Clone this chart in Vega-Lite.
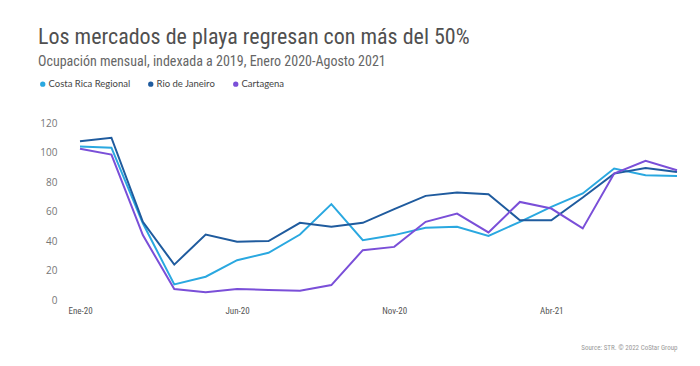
{
  "$schema": "https://vega.github.io/schema/vega-lite/v6.json",
  "width": 597,
  "height": 177,
  "autosize": {"type": "none"},
  "padding": {"left": 80, "top": 123, "right": 23, "bottom": 66},
  "background": "white",
  "title": {
    "text": "Los mercados de playa regresan con más del 50%",
    "subtitle": "Ocupación mensual, indexada a 2019, Enero 2020-Agosto 2021",
    "anchor": "start",
    "frame": "group",
    "dx": -42,
    "offset": 9,
    "font": "'Roboto Condensed', 'DejaVu Sans Condensed', 'Liberation Sans Narrow', Roboto",
    "fontSize": 22,
    "fontWeight": "normal",
    "color": "#505050",
    "subtitleFont": "'Roboto Condensed', 'DejaVu Sans Condensed', 'Liberation Sans Narrow', Roboto",
    "subtitleFontSize": 14,
    "subtitleColor": "#666666",
    "subtitlePadding": 6
  },
  "config": {
    "view": {"stroke": null},
    "axis": {"grid": false, "domain": false, "ticks": false, "tickSize": 0}
  },
  "data": {
    "values": [
      {"mes": "Ene-20", "mercado": "Costa Rica Regional", "valor": 104},
      {"mes": "Feb-20", "mercado": "Costa Rica Regional", "valor": 103.3},
      {"mes": "Mar-20", "mercado": "Costa Rica Regional", "valor": 52},
      {"mes": "Abr-20", "mercado": "Costa Rica Regional", "valor": 10.6},
      {"mes": "May-20", "mercado": "Costa Rica Regional", "valor": 15.8},
      {"mes": "Jun-20", "mercado": "Costa Rica Regional", "valor": 27},
      {"mes": "Jul-20", "mercado": "Costa Rica Regional", "valor": 32},
      {"mes": "Ago-20", "mercado": "Costa Rica Regional", "valor": 44.4},
      {"mes": "Sep-20", "mercado": "Costa Rica Regional", "valor": 65},
      {"mes": "Oct-20", "mercado": "Costa Rica Regional", "valor": 40.6},
      {"mes": "Nov-20", "mercado": "Costa Rica Regional", "valor": 44},
      {"mes": "Dic-20", "mercado": "Costa Rica Regional", "valor": 49},
      {"mes": "Ene-21", "mercado": "Costa Rica Regional", "valor": 49.6},
      {"mes": "Feb-21", "mercado": "Costa Rica Regional", "valor": 43.5},
      {"mes": "Mar-21", "mercado": "Costa Rica Regional", "valor": 53},
      {"mes": "Abr-21", "mercado": "Costa Rica Regional", "valor": 63.1},
      {"mes": "May-21", "mercado": "Costa Rica Regional", "valor": 72.2},
      {"mes": "Jun-21", "mercado": "Costa Rica Regional", "valor": 89.1},
      {"mes": "Jul-21", "mercado": "Costa Rica Regional", "valor": 84.6},
      {"mes": "Ago-21", "mercado": "Costa Rica Regional", "valor": 84.1},
      {"mes": "Ene-20", "mercado": "Rio de Janeiro", "valor": 107.6},
      {"mes": "Feb-20", "mercado": "Rio de Janeiro", "valor": 110},
      {"mes": "Mar-20", "mercado": "Rio de Janeiro", "valor": 53},
      {"mes": "Abr-20", "mercado": "Rio de Janeiro", "valor": 24},
      {"mes": "May-20", "mercado": "Rio de Janeiro", "valor": 44.4},
      {"mes": "Jun-20", "mercado": "Rio de Janeiro", "valor": 39.5},
      {"mes": "Jul-20", "mercado": "Rio de Janeiro", "valor": 40},
      {"mes": "Ago-20", "mercado": "Rio de Janeiro", "valor": 52.3},
      {"mes": "Sep-20", "mercado": "Rio de Janeiro", "valor": 49.6},
      {"mes": "Oct-20", "mercado": "Rio de Janeiro", "valor": 52.3},
      {"mes": "Nov-20", "mercado": "Rio de Janeiro", "valor": 61.6},
      {"mes": "Dic-20", "mercado": "Rio de Janeiro", "valor": 70.6},
      {"mes": "Ene-21", "mercado": "Rio de Janeiro", "valor": 72.9},
      {"mes": "Feb-21", "mercado": "Rio de Janeiro", "valor": 71.7},
      {"mes": "Mar-21", "mercado": "Rio de Janeiro", "valor": 54.1},
      {"mes": "Abr-21", "mercado": "Rio de Janeiro", "valor": 54.1},
      {"mes": "May-21", "mercado": "Rio de Janeiro", "valor": 69.5},
      {"mes": "Jun-21", "mercado": "Rio de Janeiro", "valor": 85.7},
      {"mes": "Jul-21", "mercado": "Rio de Janeiro", "valor": 89.5},
      {"mes": "Ago-21", "mercado": "Rio de Janeiro", "valor": 86.8},
      {"mes": "Ene-20", "mercado": "Cartagena", "valor": 102.6},
      {"mes": "Feb-20", "mercado": "Cartagena", "valor": 98.6},
      {"mes": "Mar-20", "mercado": "Cartagena", "valor": 44},
      {"mes": "Abr-20", "mercado": "Cartagena", "valor": 7.4},
      {"mes": "May-20", "mercado": "Cartagena", "valor": 5.2},
      {"mes": "Jun-20", "mercado": "Cartagena", "valor": 7.4},
      {"mes": "Jul-20", "mercado": "Cartagena", "valor": 6.8},
      {"mes": "Ago-20", "mercado": "Cartagena", "valor": 6.3},
      {"mes": "Sep-20", "mercado": "Cartagena", "valor": 10.1},
      {"mes": "Oct-20", "mercado": "Cartagena", "valor": 33.8},
      {"mes": "Nov-20", "mercado": "Cartagena", "valor": 36},
      {"mes": "Dic-20", "mercado": "Cartagena", "valor": 53},
      {"mes": "Ene-21", "mercado": "Cartagena", "valor": 58.6},
      {"mes": "Feb-21", "mercado": "Cartagena", "valor": 45.8},
      {"mes": "Mar-21", "mercado": "Cartagena", "valor": 66.5},
      {"mes": "Abr-21", "mercado": "Cartagena", "valor": 62},
      {"mes": "May-21", "mercado": "Cartagena", "valor": 48.5},
      {"mes": "Jun-21", "mercado": "Cartagena", "valor": 85.7},
      {"mes": "Jul-21", "mercado": "Cartagena", "valor": 94.3},
      {"mes": "Ago-21", "mercado": "Cartagena", "valor": 88}
    ]
  },
  "mark": {"type": "line", "strokeWidth": 2},
  "encoding": {
    "x": {
      "field": "mes",
      "type": "ordinal",
      "sort": null,
      "scale": {"type": "point", "padding": 0},
      "axis": {
        "values": ["Ene-20", "Jun-20", "Nov-20", "Abr-21"],
        "labelAngle": 0,
        "labelFont": "'Roboto Condensed', 'DejaVu Sans Condensed', 'Liberation Sans Narrow', Roboto",
        "labelFontSize": 9,
        "labelColor": "#555555",
        "labelPadding": 6,
        "title": "Source: STR. © 2022 CoStar Group",
        "titleAnchor": "end",
        "titleAlign": "right",
        "titleFont": "'Roboto Condensed', 'DejaVu Sans Condensed', 'Liberation Sans Narrow', Roboto",
        "titleFontSize": 7,
        "titleFontWeight": "normal",
        "titleColor": "#999999",
        "titlePadding": 28
      }
    },
    "y": {
      "field": "valor",
      "type": "quantitative",
      "scale": {"domain": [0, 120], "nice": false},
      "axis": {
        "values": [0, 20, 40, 60, 80, 100, 120],
        "labelFont": "Open Sans",
        "labelFontSize": 10,
        "labelColor": "#777777",
        "labelPadding": 23,
        "title": null
      }
    },
    "color": {
      "field": "mercado",
      "type": "nominal",
      "scale": {
        "domain": ["Costa Rica Regional", "Rio de Janeiro", "Cartagena"],
        "range": ["#2aa8e0", "#1f5b9e", "#7a4fd8"]
      },
      "legend": {
        "title": null,
        "orient": "none",
        "direction": "horizontal",
        "legendX": -42,
        "legendY": -44,
        "symbolType": "circle",
        "symbolSize": 8,
        "symbolStrokeWidth": 2.5,
        "labelFont": "Lato",
        "labelFontSize": 9.5,
        "labelColor": "#444444",
        "labelOffset": 1,
        "columnPadding": 13
      }
    }
  }
}
